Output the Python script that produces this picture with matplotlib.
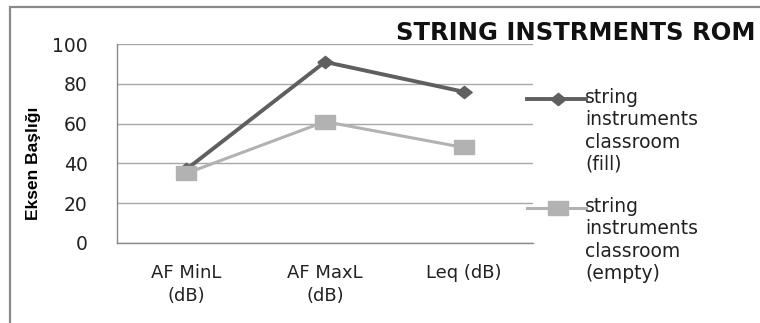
import matplotlib.pyplot as plt
from matplotlib.lines import Line2D
from matplotlib.patches import Rectangle

categories = ['AF MinL\n(dB)', 'AF MaxL\n(dB)', 'Leq (dB)']
fill_values = [37, 91, 76]
empty_values = [35, 61, 48]
fill_label = 'string\ninstruments\nclassroom\n(fill)'
empty_label = 'string\ninstruments\nclassroom\n(empty)'
y_ticks = [0, 20, 40, 60, 80, 100]

W, H = 760, 323


def fx(px):
    return px / W


def fy(py):
    return 1 - py / H


def main():
    fig = plt.figure(figsize=(W / 100, H / 100), dpi=100)
    fig.patch.set_facecolor('white')

    # chart frame, open at the right and bottom
    fig.patches.append(Rectangle((fx(10), -0.1), 1.2, 1.1 - 7 / H,
                                 transform=fig.transFigure, fill=False,
                                 edgecolor='#8a8a8a', linewidth=1.6))

    ax = fig.add_axes([fx(117), fy(243), 416 / W, 199 / H])
    x = range(len(categories))

    # stretched markers: wide square and wide diamond
    square = [(-1.35, -1), (1.35, -1), (1.35, 1), (-1.35, 1), (-1.35, -1)]
    diamond = [(-1.25, 0), (0, 1), (1.25, 0), (0, -1), (-1.25, 0)]

    series = [
        (fill_values, fill_label, '#5f5f5f', 2.8, diamond, 11, 3),
        (empty_values, empty_label, '#b2b2b2', 2.2, square, 14.5, 4),
    ]
    for values, label, color, lw, marker, ms, z in series:
        ax.plot(x, values, color=color, linewidth=lw, marker=marker,
                markersize=ms, zorder=z)

    ax.set_xlim(-0.5, 2.5)
    ax.set_ylim(0, 100)
    ax.set_yticks(y_ticks)
    ax.set_yticklabels([str(v) for v in y_ticks], fontsize=13.5,
                       color='#222222')
    ax.set_xticks(list(x))
    ax.set_xticklabels(categories, fontsize=13, color='#222222',
                       linespacing=1.4)
    ax.tick_params(axis='both', length=0)
    ax.tick_params(axis='y', pad=21)
    ax.tick_params(axis='x', pad=15)

    ax.grid(axis='y', color='#a8a8a8', linewidth=1)
    ax.set_axisbelow(True)
    for side in ['top', 'right']:
        ax.spines[side].set_visible(False)
    for side in ['left', 'bottom']:
        ax.spines[side].set_color('#8a8a8a')
        ax.spines[side].set_linewidth(1)

    ax.set_ylabel('Eksen Başlığı', fontsize=12.5, fontweight='bold',
                  family=['Liberation Sans Narrow', 'Liberation Sans'])
    ax.yaxis.set_label_coords(-0.183, 0.4)

    fig.text(fx(756), fy(33), 'STRING INSTRMENTS ROM', fontsize=17.5,
             fontweight='bold', ha='right', va='center', color='#111111')

    # legend: handle sits next to the first line of each label
    for (values, label, color, lw, marker, ms, z), top in zip(series,
                                                               [99, 208]):
        fig.add_artist(Line2D([fx(527), fx(558), fx(586)], [fy(top)] * 3,
                              transform=fig.transFigure, color=color,
                              linewidth=lw, marker=marker,
                              markersize=ms, markevery=[1]))
        fig.text(fx(585), fy(top - 11), label, fontsize=13.5,
                 color='#222222', ha='left', va='top', linespacing=1.22)

    fig.savefig('out.png', dpi=100)


if __name__ == '__main__':
    main()
